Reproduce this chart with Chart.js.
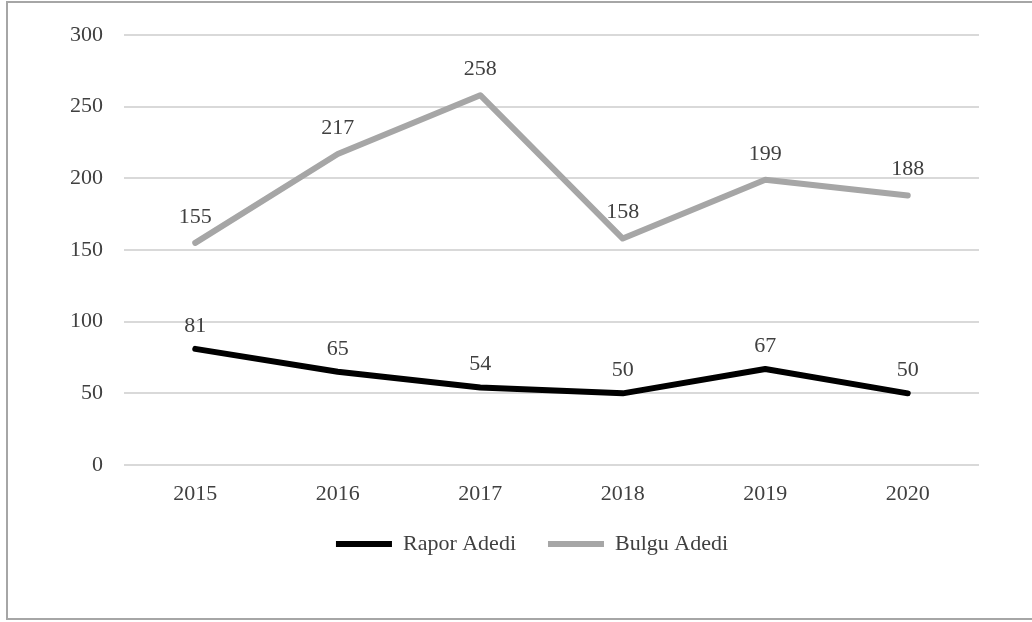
<!DOCTYPE html>
<html>
<head>
<meta charset="utf-8">
<script src="https://cdn.jsdelivr.net/npm/chart.js@4.4.0/dist/chart.umd.min.js"></script>
<style>
  html, body { margin: 0; padding: 0; background: #fff; }
  #wrap { position: relative; width: 1032px; height: 622px; overflow: hidden; }
  #frame { position: absolute; left: 6px; top: 1px; width: 1040px; height: 619px; border: 2px solid #a6a6a6; box-sizing: border-box; }
  canvas { position: absolute; left: 0; top: 0; }
</style>
</head>
<body>
<div id="wrap">
  <div id="frame"></div>
  <canvas id="chart" width="1032" height="622"></canvas>
</div>
<script>
const years = ['2015', '2016', '2017', '2018', '2019', '2020']
const raporAdedi = [81, 65, 54, 50, 67, 50]
const bulguAdedi = [155, 217, 258, 158, 199, 188]
const yTicks = [0, 50, 100, 150, 200, 250, 300]

const textColor = '#404040'
const serif = "'Liberation Serif', 'Times New Roman', serif"

// draws the value above each point, like the Excel data labels
const valueLabels = {
  id: 'valueLabels',
  afterDatasetsDraw(chart) {
    const ctx = chart.ctx
    ctx.save()
    ctx.font = '22px ' + serif
    ctx.fillStyle = textColor
    ctx.textAlign = 'center'
    ctx.textBaseline = 'middle'
    chart.data.datasets.forEach((ds, i) => {
      const meta = chart.getDatasetMeta(i)
      meta.data.forEach((pt, j) => {
        ctx.fillText(String(ds.data[j]), pt.x, pt.y - ds.labelOffset)
      })
    })
    ctx.restore()
  }
}

// legend in the reference sits a bit right of the canvas centre
const legendShift = {
  id: 'legendShift',
  afterLayout(chart) {
    if (chart.legend) chart.legend.left += 85
  }
}

const ctx = document.getElementById('chart').getContext('2d')
if (!ctx) throw new Error('Failed to get 2D context from canvas')

new Chart(ctx, {
  type: 'line',
  data: {
    labels: years,
    datasets: [
      {
        label: 'Rapor Adedi',
        data: raporAdedi,
        borderColor: '#000000',
        backgroundColor: '#000000',
        borderWidth: 6,
        borderCapStyle: 'round',
        borderJoinStyle: 'round',
        pointRadius: 0,
        tension: 0,
        labelOffset: 23
      },
      {
        label: 'Bulgu Adedi',
        data: bulguAdedi,
        borderColor: '#a6a6a6',
        backgroundColor: '#a6a6a6',
        borderWidth: 6,
        borderCapStyle: 'round',
        borderJoinStyle: 'round',
        pointRadius: 0,
        tension: 0,
        labelOffset: 26
      }
    ]
  },
  options: {
    responsive: false,
    animation: false,
    layout: { padding: { left: 0, right: 53, top: 35, bottom: 57 } },
    plugins: {
      tooltip: { enabled: false },
      legend: {
        position: 'bottom',
        labels: {
          usePointStyle: true,
          pointStyle: 'line',
          pointStyleWidth: 56,
          padding: 32,
          color: textColor,
          font: { family: serif, size: 22 }
        }
      }
    },
    scales: {
      x: {
        offset: true,
        grid: { display: false, drawTicks: false },
        border: { display: false },
        ticks: { color: textColor, padding: 16, font: { family: serif, size: 22 } },
        afterFit(scale) { scale.height = 36 }
      },
      y: {
        min: 0,
        max: 300,
        afterBuildTicks(scale) { scale.ticks = yTicks.map(v => ({ value: v })) },
        grid: { color: '#d9d9d9', lineWidth: 2, drawTicks: false },
        border: { display: false },
        ticks: { color: textColor, padding: 21, font: { family: serif, size: 22 } },
        afterFit(scale) { scale.width = 124 }
      }
    }
  },
  plugins: [valueLabels, legendShift]
})
</script>
</body>
</html>
